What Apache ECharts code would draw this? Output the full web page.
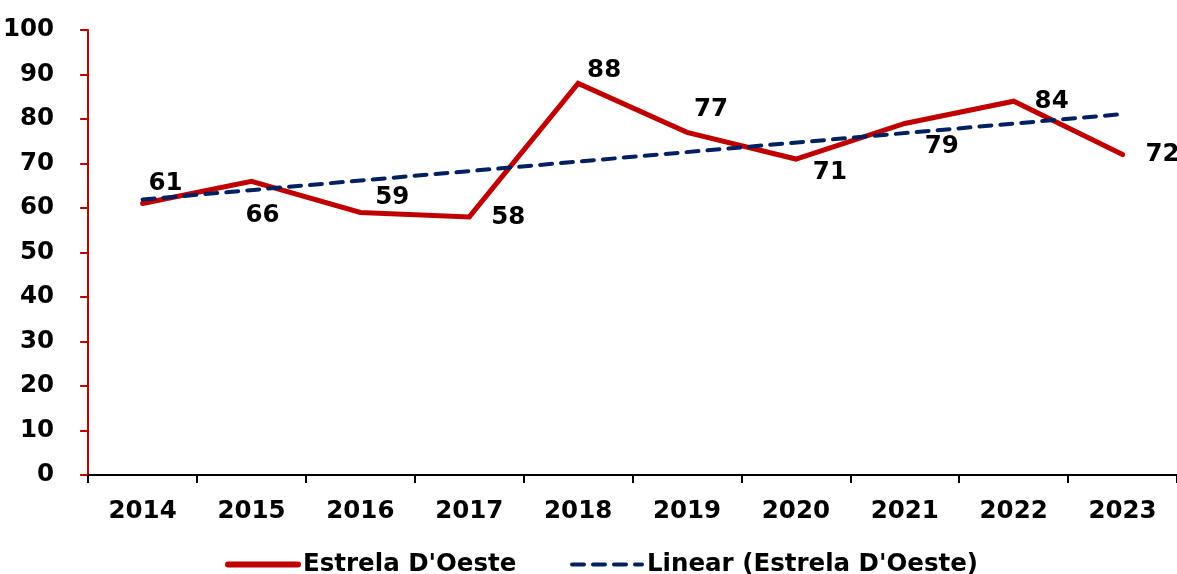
<!DOCTYPE html>
<html>
<head>
<meta charset="utf-8">
<script src="https://cdn.jsdelivr.net/npm/echarts@6/dist/echarts.min.js"></script>
<style>
  html, body { margin: 0; padding: 0; background: #fff; }
  #chart { width: 1177px; height: 574px; }
</style>
</head>
<body>
<div id="chart"></div>
<script>
// data
const years = ['2014', '2015', '2016', '2017', '2018', '2019', '2020', '2021', '2022', '2023']
const estrelaValues = [61, 66, 59, 58, 88, 77, 71, 79, 84, 72]
// trend line end points (Linear), middle left empty and joined
const trendValues = [61.9, null, null, null, null, null, null, null, null, 81.1]

// where each value label sits relative to its point
const labelOffsets = [[23, -20], [11, 34], [32, -15], [39, 1], [26, -13], [24, -23], [34, 14], [37, 23], [38, 0], [40, 0]]

const font = 'DejaVu Sans'
const chart = echarts.init(document.getElementById('chart'))

const estrelaData = estrelaValues.map((v, i) => ({
  value: v,
  label: { offset: labelOffsets[i] }
}))

const legendText = { fontFamily: font, fontWeight: 'bold', fontSize: 24.5, color: '#000' }

chart.setOption({
  animation: false,
  textStyle: { fontFamily: font },
  grid: { left: 88, right: 0, top: 30, bottom: 99 },
  legend: [
    {
      data: ['Estrela D\'Oeste'],
      left: 220, top: 547,
      itemWidth: 70, itemHeight: 12, itemGap: 5,
      itemStyle: { opacity: 0 },
      lineStyle: { width: 6, color: '#c00000', cap: 'round' },
      textStyle: legendText
    },
    {
      data: ['Linear (Estrela D\'Oeste)'],
      left: 565, top: 547,
      itemWidth: 70, itemHeight: 12, itemGap: 4,
      itemStyle: { opacity: 0 },
      lineStyle: { width: 4, color: '#002060', type: [12, 9], cap: 'round' },
      textStyle: legendText
    }
  ],
  xAxis: {
    type: 'category',
    data: years,
    boundaryGap: true,
    axisLine: { lineStyle: { color: '#000', width: 2 } },
    axisTick: { show: true, length: 8, lineStyle: { color: '#000', width: 2 } },
    axisLabel: { fontFamily: font, fontWeight: 'bold', fontSize: 24.5, color: '#000', margin: 24 },
    splitLine: { show: false }
  },
  yAxis: {
    type: 'value',
    min: 0, max: 100, interval: 10,
    axisLine: { show: true, lineStyle: { color: '#c00000', width: 2 } },
    axisTick: { show: true, length: 8, lineStyle: { color: '#c00000', width: 2 } },
    axisLabel: { fontFamily: font, fontWeight: 'bold', fontSize: 24.5, color: '#000', margin: 34 },
    splitLine: { show: false }
  },
  series: [
    {
      name: 'Estrela D\'Oeste',
      type: 'line',
      data: estrelaData,
      symbol: 'circle',
      symbolSize: 0.1,
      showSymbol: true,
      z: 2,
      lineStyle: { color: '#c00000', width: 5, cap: 'round', join: 'miter' },
      itemStyle: { color: '#c00000' },
      label: {
        show: true,
        position: 'inside',
        fontFamily: font, fontWeight: 'bold', fontSize: 24.5, color: '#000'
      }
    },
    {
      name: 'Linear (Estrela D\'Oeste)',
      type: 'line',
      data: trendValues,
      connectNulls: true,
      symbol: 'none',
      z: 3,
      lineStyle: { color: '#002060', width: 4, type: [12, 9], cap: 'round' },
      itemStyle: { color: '#002060' }
    }
  ]
})
</script>
</body>
</html>
